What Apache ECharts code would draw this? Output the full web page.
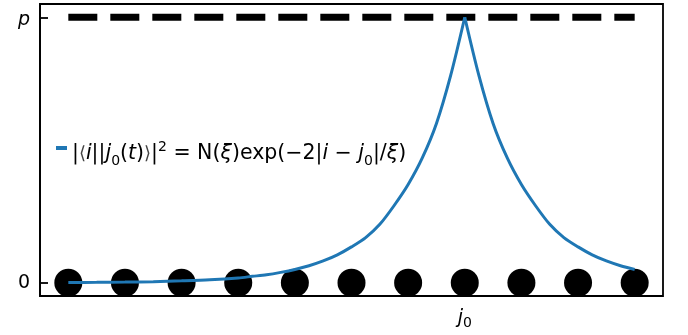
<!DOCTYPE html>
<html>
<head>
<meta charset="utf-8">
<script src="https://cdn.jsdelivr.net/npm/echarts@6/dist/echarts.min.js"></script>
<style>
  html, body { margin: 0; padding: 0; background: #fff; }
  #chart { width: 688px; height: 335px; }
</style>
</head>
<body>
<div id="chart"></div>
<script>
// lattice sites i = 0..10, j0 sits at 7
var sites = [0, 1, 2, 3, 4, 5, 6, 7, 8, 9, 10];
var siteLevel = [0, 0, 0, 0, 0, 0, 0, 0, 0, 0, 0];
var j0 = 7;
var pLevel = 1;

// blue curve, left branch up to j0 and right branch from j0
var leftX = [0, 0.5, 1, 1.5, 2, 2.5, 3, 3.25, 3.5, 3.75, 4, 4.25, 4.5, 4.75, 5,
    5.25, 5.5, 5.75, 6, 6.25, 6.5, 6.75, 7];
var leftY = [0.001, 0.0015, 0.0025, 0.004, 0.007, 0.011, 0.018, 0.024, 0.030, 0.039, 0.050, 0.064, 0.082, 0.105, 0.135,
    0.17, 0.22, 0.29, 0.37, 0.47, 0.60, 0.78, 1.0];
var rightX = [7, 7.25, 7.5, 7.75, 8, 8.25, 8.5, 8.75, 9, 9.25, 9.5, 9.75, 10];
var rightY = [1.0, 0.78, 0.60, 0.47, 0.37, 0.29, 0.22, 0.17, 0.135, 0.105, 0.082, 0.064, 0.05];

var yTicks = [0, 1];
var legendName = "amp";

var font = "DejaVu Sans";
var chart = echarts.init(document.getElementById("chart"));

function pairs(xs, ys) {
    return xs.map(function(x, k) { return [x, ys[k]]; });
}

var legendRich = {
    it: { fontFamily: font, fontSize: 20.5, fontStyle: "italic", color: "#000", lineHeight: 28 },
    br: { fontFamily: font, fontSize: 18, color: "#444", lineHeight: 28 },
    sup: { fontFamily: font, fontSize: 14, color: "#000", lineHeight: 14, verticalAlign: "top" },
    sub: { fontFamily: font, fontSize: 14, color: "#000", lineHeight: 20, verticalAlign: "bottom" }
};

chart.setOption({
    animation: false,
    backgroundColor: "#fff",
    grid: {
        left: 40,
        right: 25,
        top: 4,
        bottom: 39,
        show: true,
        borderColor: "#000",
        borderWidth: 1.8,
        backgroundColor: "transparent"
    },
    legend: {
        left: 56,
        top: 128,
        padding: 0,
        icon: "rect",
        itemWidth: 11,
        itemHeight: 4,
        data: [legendName],
        formatter: function() {
            return "|{br|⟨}{it|i}||{it|j}{sub|0}({it|t}){br|⟩}|{sup|2} = N({it|ξ})exp(−2|{it|i} − {it|j}{sub|0}|/{it|ξ})";
        },
        textStyle: {
            fontFamily: font,
            fontSize: 20.5,
            lineHeight: 28,
            color: "#000",
            padding: [12, 0, 0, 0],
            rich: legendRich
        }
    },
    xAxis: {
        type: "value",
        min: -0.5,
        max: 10.5,
        interval: 0.5,
        splitLine: { show: false },
        axisLine: { show: false },
        axisTick: { show: false },
        axisLabel: {
            customValues: [j0],
            margin: 10,
            fontFamily: font,
            fontSize: 19,
            color: "#000",
            formatter: function() {
                return "{it|j}{sub|0}";
            },
            rich: {
                it: { fontFamily: font, fontSize: 19, fontStyle: "italic", color: "#000", lineHeight: 24 },
                sub: { fontFamily: font, fontSize: 14, color: "#000", lineHeight: 18, verticalAlign: "bottom" }
            }
        }
    },
    yAxis: {
        type: "value",
        min: -0.05,
        max: 1.05,
        interval: 0.05,
        splitLine: { show: false },
        axisLine: { show: true, onZero: false, lineStyle: { color: "#000", width: 1.8 } },
        axisTick: {
            show: true,
            inside: true,
            length: 8,
            customValues: yTicks,
            lineStyle: { color: "#000", width: 1.8 }
        },
        axisLabel: {
            customValues: yTicks,
            margin: 10,
            fontFamily: font,
            fontSize: 19,
            color: "#000",
            formatter: function(v) {
                return v > 0.5 ? "{it|p}" : "0";
            },
            rich: {
                it: { fontFamily: font, fontSize: 19, fontStyle: "italic", color: "#000", padding: [6, 0, 0, 0] }
            }
        }
    },
    series: [
        {
            type: "scatter",
            symbol: "circle",
            symbolSize: 28,
            itemStyle: { color: "#000", opacity: 1 },
            data: pairs(sites, siteLevel)
        },
        {
            type: "line",
            showSymbol: false,
            symbol: "none",
            lineStyle: { color: "#000", width: 7, type: [29, 13] },
            data: [[sites[0], pLevel], [sites[sites.length - 1], pLevel]]
        },
        {
            name: legendName,
            type: "line",
            showSymbol: false,
            symbol: "none",
            smooth: 0.3,
            color: "#1f77b4",
            lineStyle: { color: "#1f77b4", width: 3 },
            data: pairs(leftX, leftY)
        },
        {
            name: "amp right",
            type: "line",
            showSymbol: false,
            symbol: "none",
            smooth: 0.3,
            color: "#1f77b4",
            lineStyle: { color: "#1f77b4", width: 3 },
            data: pairs(rightX, rightY)
        }
    ]
});
</script>
</body>
</html>
